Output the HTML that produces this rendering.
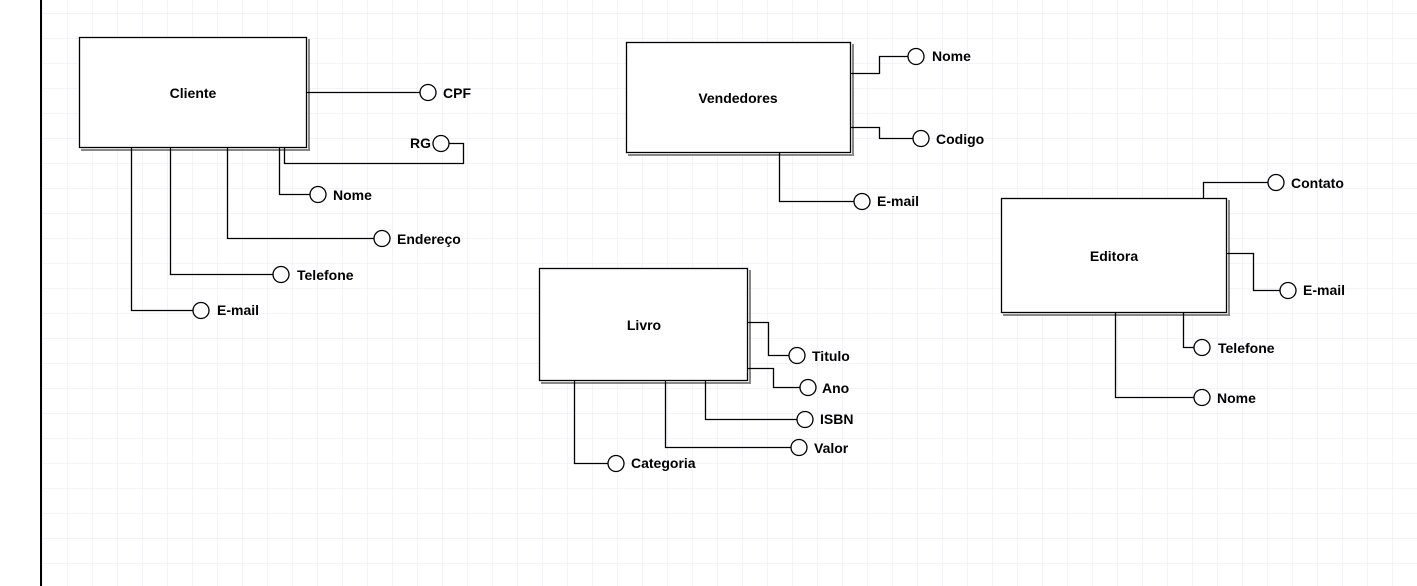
<!DOCTYPE html>
<html><head><meta charset="utf-8"><style>
html,body{margin:0;padding:0;background:#fff;}
svg{display:block;}
text{font-family:"Liberation Sans",Arial,sans-serif;font-weight:bold;font-size:14px;fill:#000;}
</style></head><body>
<svg width="1417" height="586" viewBox="0 0 1417 586" xmlns="http://www.w3.org/2000/svg">
<defs>
<pattern id="g" x="42" y="13" width="25" height="25" patternUnits="userSpaceOnUse">
<path d="M0 0V25M0 0H25" stroke="#e3ebf3" stroke-width="1" fill="none"/>
</pattern>
</defs>
<rect x="42" y="0" width="1375" height="586" fill="url(#g)"/>
<line x1="41" y1="0" x2="41" y2="586" stroke="#000" stroke-width="2"/>
<g fill="none" stroke="#000" stroke-width="1.3">
<!-- boxes shadows -->
<g stroke="#888" stroke-width="2">
<path d="M309 39V150H81"/><path d="M853 44V155H628"/><path d="M750 270V383H541"/><path d="M1229 200V315H1003"/>
</g>
<rect x="79.5" y="37.5" width="227" height="110" fill="#fff"/>
<rect x="626.5" y="42.5" width="224" height="110" fill="#fff"/>
<rect x="539.5" y="268.5" width="208" height="112" fill="#fff"/>
<rect x="1001.5" y="198.5" width="225" height="114" fill="#fff"/>
<!-- Cliente -->
<path d="M307 92.5H420"/>
<path d="M284.5 148V163.5H463.5V143.5H449"/>
<path d="M279.5 148V194.5H310"/>
<path d="M227.5 148V238.5H374"/>
<path d="M170.5 148V274.5H273"/>
<path d="M131.5 148V310.5H193"/>
<!-- Vendedores -->
<path d="M851 73.5H879.5V56.5H908"/>
<path d="M851 127.5H879.5V138.5H913"/>
<path d="M779.5 153V201.5H854"/>
<!-- Livro -->
<path d="M748 322.5H768.5V355.5H789"/>
<path d="M748 368.5H773.5V387.5H800"/>
<path d="M705.5 381V419.5H797"/>
<path d="M665.5 381V447.5H791"/>
<path d="M574.5 381V463.5H608"/>
<!-- Editora -->
<path d="M1203.5 198V182.5H1268"/>
<path d="M1227 253.5H1253.5V290.5H1280"/>
<path d="M1183.5 313V347.5H1194"/>
<path d="M1115.5 313V397.5H1194"/>
<g fill="#fff">
<circle cx="428" cy="92.5" r="8"/><circle cx="441" cy="143.5" r="8"/><circle cx="318" cy="194.5" r="8"/>
<circle cx="382" cy="238.5" r="8"/><circle cx="281" cy="274.5" r="8"/><circle cx="201" cy="310.5" r="8"/>
<circle cx="916" cy="56.5" r="8"/><circle cx="921" cy="138.5" r="8"/><circle cx="862" cy="201.5" r="8"/>
<circle cx="797" cy="355.5" r="8"/><circle cx="808" cy="387.5" r="8"/><circle cx="805" cy="419.5" r="8"/>
<circle cx="799" cy="447.5" r="8"/><circle cx="616" cy="463.5" r="8"/>
<circle cx="1276" cy="182.5" r="8"/><circle cx="1288" cy="290.5" r="8"/><circle cx="1202" cy="347.5" r="8"/><circle cx="1202" cy="397.5" r="8"/>
</g>
</g>
<g dominant-baseline="central">
<text x="193" y="93" text-anchor="middle">Cliente</text>
<text x="738" y="98" text-anchor="middle">Vendedores</text>
<text x="644" y="325" text-anchor="middle">Livro</text>
<text x="1114" y="256" text-anchor="middle">Editora</text>
<text x="443" y="93">CPF</text>
<text x="431" y="143" text-anchor="end">RG</text>
<text x="333" y="195">Nome</text>
<text x="397" y="239">Endereço</text>
<text x="297" y="275">Telefone</text>
<text x="217" y="310">E-mail</text>
<text x="932" y="56">Nome</text>
<text x="936" y="139">Codigo</text>
<text x="877" y="201">E-mail</text>
<text x="812" y="356">Titulo</text>
<text x="822" y="388">Ano</text>
<text x="820" y="419">ISBN</text>
<text x="814" y="448">Valor</text>
<text x="631" y="463">Categoria</text>
<text x="1291" y="183">Contato</text>
<text x="1303" y="290">E-mail</text>
<text x="1218" y="348">Telefone</text>
<text x="1217" y="398">Nome</text>
</g>
</svg>
</body></html>
